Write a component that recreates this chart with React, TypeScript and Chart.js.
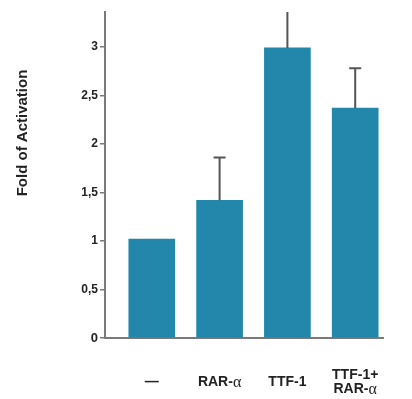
import React, { useEffect, useRef } from "react";
import { Chart, registerables } from "chart.js";

Chart.register(...registerables);

const categories: string[][] = [["—"], ["RAR-α"], ["TTF-1"], ["TTF-1+", "RAR-α"]];
const foldValues: number[] = [1.02, 1.42, 2.99, 2.37];
const errorPlus: number[] = [0, 0.44, 0.55, 0.41];
const yTicks: number[] = [0, 0.5, 1, 1.5, 2, 2.5, 3];
const yTitle = "Fold of Activation";

const BAR = "#2387ab";
const AXIS = "#7a7a7a";
const TEXT = "#222222";
const SANS = "'Liberation Sans', Arial, Helvetica, sans-serif";

function drawLabel(ctx: CanvasRenderingContext2D, text: string, cx: number, cy: number) {
  const parts = text.split("α");
  const sansFont = `bold 14px ${SANS}`;
  const serifFont = `16px 'Liberation Serif', 'DejaVu Serif', serif`;
  ctx.font = sansFont;
  const w0 = ctx.measureText(parts[0]).width;
  let wA = 0;
  if (parts.length > 1) {
    ctx.font = serifFont;
    wA = ctx.measureText("α").width;
  }
  ctx.font = sansFont;
  const w1 = parts.length > 1 ? ctx.measureText(parts[1]).width : 0;
  const total = w0 + wA + w1;
  let x = cx - total / 2;
  ctx.textAlign = "left";
  ctx.textBaseline = "middle";
  ctx.fillStyle = TEXT;
  ctx.font = sansFont;
  ctx.fillText(parts[0], x, cy);
  x += w0;
  if (parts.length > 1) {
    ctx.font = serifFont;
    ctx.fillText("α", x, cy + 0.5);
    x += wA;
    ctx.font = sansFont;
    ctx.fillText(parts[1], x, cy);
  }
}

const extrasPlugin = {
  id: "extras",
  afterDatasetsDraw(chart: any) {
    const ctx: CanvasRenderingContext2D = chart.ctx;
    const yScale = chart.scales.y;
    const meta = chart.getDatasetMeta(0);
    const area = chart.chartArea;
    ctx.save();
    ctx.beginPath();
    ctx.rect(area.left - 20, area.top, area.right - area.left + 40, area.bottom - area.top);
    ctx.clip();
    ctx.strokeStyle = "#555555";
    ctx.lineWidth = 2;
    meta.data.forEach((el: any, i: number) => {
      const e = errorPlus[i];
      if (!e) return;
      const yTop = yScale.getPixelForValue(foldValues[i] + e);
      ctx.beginPath();
      ctx.moveTo(el.x, el.y);
      ctx.lineTo(el.x, yTop);
      ctx.moveTo(el.x - 6, yTop);
      ctx.lineTo(el.x + 6, yTop);
      ctx.stroke();
    });
    ctx.restore();
  },
  afterDraw(chart: any) {
    const ctx: CanvasRenderingContext2D = chart.ctx;
    const xScale = chart.scales.x;
    ctx.save();
    categories.forEach((lines, i) => {
      const cx = xScale.getPixelForValue(i);
      const lh = 14;
      const start = 382 - ((lines.length - 1) * lh) / 2;
      lines.forEach((ln, j) => drawLabel(ctx, ln, cx, start + j * lh));
    });
    ctx.translate(23, 133);
    ctx.rotate(-Math.PI / 2);
    ctx.font = `bold 15px ${SANS}`;
    ctx.fillStyle = TEXT;
    ctx.textAlign = "center";
    ctx.textBaseline = "middle";
    ctx.fillText(yTitle, 0, 0);
    ctx.restore();
  },
};

export default function App() {
  const ref = useRef<HTMLCanvasElement>(null);
  useEffect(() => {
    document.body.style.margin = "0";
    const canvas = ref.current!;
    const chart = new Chart(canvas, {
      type: "bar",
      data: {
        datasets: [
          {
            data: foldValues.map((v, i) => ({ x: i, y: v })),
            backgroundColor: BAR,
            borderWidth: 0,
            barThickness: 46,
          },
        ],
      },
      options: {
        responsive: false,
        animation: false,
        layout: { padding: { top: 12, right: 29, left: 0, bottom: 0 } },
        plugins: { legend: { display: false }, tooltip: { enabled: false } },
        scales: {
          x: {
            type: "linear",
            offset: false,
            min: -0.69,
            max: 3.41,
            ticks: { display: false },
            grid: { display: false },
            border: { display: true, color: AXIS, width: 2 },
            afterFit: (s: any) => {
              s.height = 61;
            },
          },
          y: {
            type: "linear",
            min: 0,
            max: 3.36,
            afterBuildTicks: (s: any) => {
              s.ticks = yTicks.map((v) => ({ value: v }));
            },
            ticks: {
              padding: 2,
              color: TEXT,
              font: (c: any) => ({
                family: SANS,
                weight: "bold",
                size: c.tick && c.tick.value === 0 ? 13 : 12,
              }),
              callback: (v: any) => String(v).replace(".", ","),
            },
            grid: {
              drawOnChartArea: false,
              drawTicks: true,
              tickLength: 5,
              color: AXIS,
              lineWidth: 1.5,
            },
            border: { display: true, color: AXIS, width: 2 },
            afterFit: (s: any) => {
              s.width = 105;
            },
          },
        },
      },
      plugins: [extrasPlugin],
    });
    return () => chart.destroy();
  }, []);
  return <canvas ref={ref} width={412} height={399} style={{ display: "block" }} />;
}
